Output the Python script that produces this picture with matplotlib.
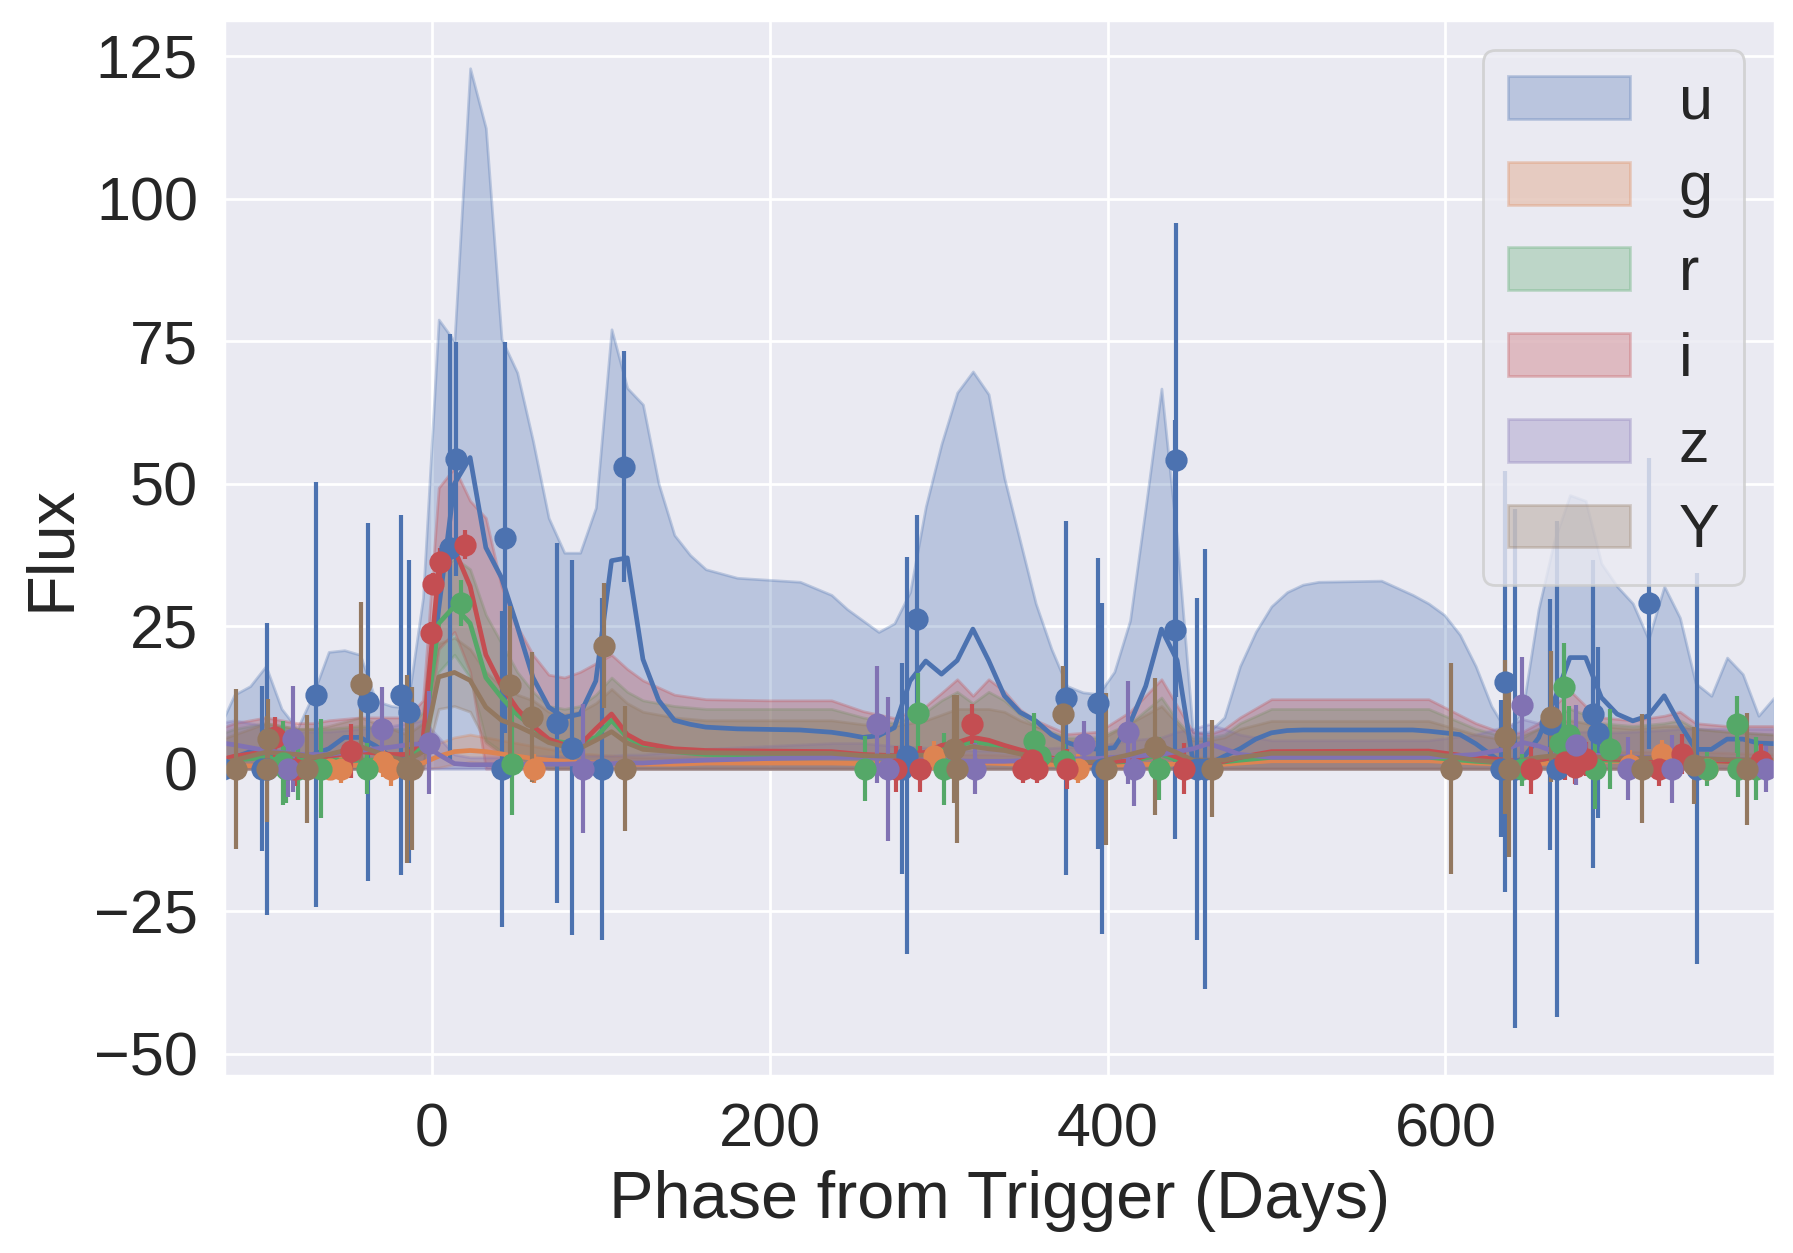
"""Light curve with GP fits per passband: flux vs phase from trigger."""

import matplotlib
matplotlib.use("Agg")
import matplotlib.pyplot as plt
import seaborn as sns

sns.set_theme(style="darkgrid")
plt.rcParams["font.family"] = ["Liberation Sans", "DejaVu Sans"]

BANDS = ["u", "g", "r", "i", "z", "Y"]

# ---- GP fit, u band (phase, mean, upper; lower bound sits at zero) ----
GP_T_U = [
    -126.1, -116.8, -107.5, -98.2, -88.9, -79.6, -70.3, -61.0, -51.7, -42.4,
    -33.1, -23.8, -14.5, -5.2, 4.1, 13.4, 22.7, 32.0, 41.3, 50.6,
    59.9, 69.2, 78.5, 87.8, 97.1, 106.4, 115.7, 125.0, 134.3, 143.6,
    152.9, 162.2, 180.8, 218.0, 236.6, 245.9, 255.2, 264.5, 273.8, 283.1,
    292.4, 301.7, 311.0, 320.3, 329.6, 338.9, 348.2, 357.5, 366.8, 376.1,
    385.4, 394.7, 404.0, 413.3, 422.6, 431.9, 441.2, 450.5, 459.8, 469.1,
    478.4, 487.7, 497.0, 506.3, 515.6, 524.9, 562.1, 580.7, 590.0, 599.3,
    608.6, 617.9, 627.2, 636.5, 645.8, 655.1, 664.4, 673.7, 683.0, 692.3,
    701.6, 710.9, 720.2, 729.5, 738.8, 748.1, 757.4, 766.7, 776.0, 785.3,
    794.6,
]
GP_MEAN_U = [
    1.0, 2.0, 3.0, 3.0, 2.0, 1.5, 2.5, 3.5, 5.5, 5.5,
    4.0, 2.0, 2.5, 3.0, 28.0, 50.0, 54.6, 38.8, 33.5, 25.0,
    16.0, 10.8, 9.0, 9.6, 15.4, 36.5, 37.0, 19.2, 12.0, 8.5,
    7.8, 7.3, 7.0, 6.8, 6.4, 6.0, 5.5, 5.8, 7.2, 15.4,
    18.9, 16.6, 19.0, 24.5, 19.0, 12.8, 9.9, 8.4, 6.0, 4.6,
    3.7, 3.4, 3.7, 8.0, 14.5, 24.5, 19.0, 1.4, 0.8, 2.2,
    3.5, 5.2, 6.3, 6.7, 6.8, 6.8, 6.8, 6.8, 6.6, 6.3,
    6.0, 4.4, 2.4, 0.4, 1.8, 5.4, 12.0, 19.5, 19.5, 12.5,
    9.6, 8.4, 9.3, 12.8, 7.8, 3.4, 3.4, 5.2, 5.2, 4.5,
    4.4,
]
GP_UP_U = [
    7.0, 13.0, 14.5, 18.0, 10.5, 7.0, 13.0, 20.5, 20.8, 20.0,
    11.9, 11.0, 10.7, 30.0, 78.8, 75.0, 122.9, 112.4, 75.4, 69.5,
    57.5, 44.0, 37.9, 37.9, 45.8, 77.1, 66.8, 63.9, 50.0, 41.0,
    37.5, 35.0, 33.5, 32.8, 30.5, 28.0, 26.0, 24.0, 25.5, 31.0,
    46.0, 57.0, 66.0, 69.7, 65.7, 51.0, 40.0, 29.0, 21.0, 14.5,
    13.4, 13.1, 17.0, 26.0, 46.0, 66.7, 40.0, 6.4, 6.4, 9.0,
    18.0, 24.0, 28.5, 31.0, 32.3, 32.8, 33.0, 30.5, 29.0, 27.0,
    23.5, 18.0, 11.0, 6.4, 10.5, 28.0, 40.0, 48.0, 47.0, 36.0,
    32.0, 29.0, 22.7, 32.0, 26.5, 15.0, 12.8, 19.5, 16.6, 9.3,
    12.5,
]

# ---- GP fit, g r i z Y bands (shared phase grid) ----
GP_T = [
    -126.1, -116.8, -98.2, -79.6, -70.3, -61.0, -42.4, -23.8, -14.5, -5.2,
    4.1, 13.4, 22.7, 32.0, 41.3, 50.6, 59.9, 69.2, 78.5, 87.8,
    97.1, 106.4, 115.7, 125.0, 143.6, 162.2, 199.4, 236.6, 255.2, 273.8,
    292.4, 301.7, 311.0, 320.3, 329.6, 338.9, 348.2, 357.5, 376.1, 394.7,
    413.3, 431.9, 441.2, 450.5, 459.8, 469.1, 478.4, 497.0, 590.0, 617.9,
    636.5, 645.8, 655.1, 664.4, 673.7, 683.0, 692.3, 710.9, 729.5, 738.8,
    748.1, 766.7, 794.6,
]

GP_MEAN_G = [
    0.5, 0.5, 0.5, 0.5, 0.5, 0.5, 0.6, 0.6, 0.6, 1.0,
    2.2, 3.0, 3.2, 3.0, 2.6, 2.2, 1.8, 1.5, 1.3, 1.1,
    1.0, 0.9, 0.8, 0.8, 0.8, 1.0, 1.0, 1.0, 0.9, 0.8,
    0.8, 0.9, 1.0, 1.0, 1.0, 0.9, 0.8, 0.8, 0.7, 0.6,
    0.7, 0.8, 0.8, 0.8, 0.8, 0.8, 1.0, 1.4, 1.4, 1.0,
    0.8, 0.8, 0.9, 1.0, 1.1, 1.2, 1.3, 1.3, 1.3, 1.3,
    1.3, 1.2, 1.0,
]
GP_UP_G = [
    2.0, 2.0, 2.0, 2.0, 2.0, 2.0, 2.0, 2.0, 2.0, 2.5,
    4.5, 5.5, 6.0, 5.5, 5.0, 4.5, 4.0, 3.5, 3.0, 2.7,
    2.5, 2.3, 2.1, 2.0, 2.0, 2.5, 2.5, 2.5, 2.4, 2.2,
    2.2, 2.3, 2.5, 2.5, 2.5, 2.4, 2.3, 2.2, 2.0, 1.8,
    1.9, 2.0, 2.0, 2.0, 2.0, 2.0, 2.4, 2.9, 2.9, 2.2,
    2.0, 2.0, 2.2, 2.5, 2.7, 2.8, 3.0, 3.0, 3.0, 3.0,
    3.0, 2.8, 2.5,
]
GP_LO_G = [
    0, 0, 0, 0, 0, 0, 0, 0, 0, 0,
    0.2, 0.8, 1.2, 1.0, 0.5, 0, 0, 0, 0, 0,
    0, 0, 0, 0, 0, 0, 0, 0, 0, 0,
    0, 0, 0, 0, 0, 0, 0, 0, 0, 0,
    0, 0, 0, 0, 0, 0, 0, 0, 0, 0,
    0, 0, 0, 0, 0, 0, 0, 0, 0, 0,
    0, 0, 0,
]

GP_MEAN_R = [
    1.0, 1.5, 2.0, 1.5, 1.5, 1.5, 1.5, 1.5, 1.5, 4.0,
    25.5, 28.5, 25.5, 16.0, 12.5, 9.5, 7.3, 5.0, 4.6, 4.6,
    5.5, 8.5, 5.5, 4.0, 3.0, 2.5, 2.3, 2.3, 2.0, 1.8,
    2.5, 3.5, 4.0, 4.8, 4.3, 3.6, 2.8, 2.2, 1.2, 1.0,
    1.3, 2.5, 1.5, 1.0, 1.0, 1.2, 1.5, 2.0, 2.0, 1.3,
    1.0, 1.0, 1.5, 2.0, 2.5, 2.0, 1.5, 1.5, 1.8, 1.8,
    1.5, 1.3, 1.2,
]
GP_UP_R = [
    6.0, 7.0, 8.0, 7.0, 7.0, 7.0, 7.5, 7.0, 7.0, 10.0,
    34.0, 37.0, 35.0, 27.0, 22.0, 17.0, 13.5, 11.0, 10.5, 11.0,
    13.0, 16.0, 13.5, 12.0, 11.0, 10.5, 10.5, 10.5, 9.0, 8.0,
    10.0, 12.0, 13.5, 11.5, 13.5, 12.0, 9.5, 7.5, 5.5, 5.5,
    8.0, 12.5, 8.5, 5.5, 5.5, 6.0, 8.0, 10.5, 10.5, 7.0,
    5.5, 5.5, 7.0, 9.0, 10.5, 9.5, 8.0, 7.5, 8.0, 8.5,
    7.0, 6.5, 6.0,
]
GP_LO_R = [
    0, 0, 0, 0, 0, 0, 0, 0, 0, 0,
    17.0, 20.0, 16.0, 5.0, 3.0, 2.0, 1.0, 0, 0, 0,
    0, 1.0, 0, 0, 0, 0, 0, 0, 0, 0,
    0, 0, 0, 0, 0, 0, 0, 0, 0, 0,
    0, 0, 0, 0, 0, 0, 0, 0, 0, 0,
    0, 0, 0, 0, 0, 0, 0, 0, 0, 0,
    0, 0, 0,
]

GP_MEAN_I = [
    1.5, 2.2, 3.0, 2.5, 2.0, 2.2, 3.0, 2.5, 2.5, 5.0,
    35.0, 38.5, 32.0, 20.0, 14.5, 10.5, 7.5, 5.2, 4.2, 4.2,
    7.0, 9.6, 6.0, 4.5, 3.5, 3.2, 3.1, 3.0, 2.5, 2.3,
    2.9, 4.1, 4.6, 5.5, 5.0, 4.1, 3.3, 2.6, 1.2, 1.0,
    1.5, 3.0, 2.0, 1.0, 1.0, 1.3, 2.0, 3.0, 3.1, 2.0,
    1.5, 1.2, 1.5, 2.0, 2.5, 2.0, 1.8, 1.5, 1.8, 1.8,
    1.5, 1.3, 1.2,
]
GP_UP_I = [
    7.0, 8.0, 9.0, 8.0, 8.0, 8.5, 9.0, 9.0, 9.0, 12.0,
    49.3, 52.8, 47.0, 44.0, 32.0, 25.0, 20.0, 16.5, 16.0, 17.0,
    18.5, 20.0, 17.5, 15.5, 13.0, 12.2, 12.0, 12.0, 10.1, 8.9,
    11.0, 13.3, 15.7, 12.8, 15.7, 13.6, 10.4, 8.5, 6.1, 6.5,
    10.0, 15.7, 11.0, 6.5, 6.0, 7.0, 9.0, 12.2, 12.2, 8.0,
    6.0, 6.5, 8.0, 11.0, 13.7, 11.0, 9.0, 8.5, 9.3, 10.0,
    8.0, 7.5, 7.5,
]
GP_LO_I = [
    0, 0, 0, 0, 0, 0, 0, 0, 0, 0,
    21.0, 24.0, 17.0, 0, 0, 0, 0, 0, 0, 0,
    0, 0, 0, 0, 0, 0, 0, 0, 0, 0,
    0, 0, 0, 0, 0, 0, 0, 0, 0, 0,
    0, 0, 0, 0, 0, 0, 0, 0, 0, 0,
    0, 0, 0, 0, 0, 0, 0, 0, 0, 0,
    0, 0, 0,
]

GP_MEAN_Z = [
    4.6, 4.2, 3.2, 2.5, 2.5, 2.5, 3.2, 3.8, 4.2, 4.4,
    2.5, 0.9, 0.7, 0.7, 0.7, 0.7, 0.8, 0.8, 0.8, 0.9,
    0.9, 0.9, 1.0, 1.0, 1.3, 1.5, 1.8, 2.0, 2.0, 1.8,
    1.6, 1.5, 1.4, 1.3, 1.3, 1.3, 1.4, 1.5, 1.7, 1.8,
    2.2, 2.5, 3.0, 3.5, 4.4, 3.5, 2.5, 2.0, 2.0, 2.5,
    3.5, 4.6, 4.0, 3.0, 2.7, 2.5, 2.3, 2.0, 2.0, 2.0,
    1.8, 1.6, 1.5,
]
GP_UP_Z = [
    8.0, 8.5, 7.5, 6.5, 6.5, 6.5, 7.0, 7.5, 8.0, 8.5,
    5.5, 2.5, 2.0, 2.0, 2.0, 2.0, 2.2, 2.2, 2.2, 2.3,
    2.3, 2.3, 2.5, 2.5, 3.0, 3.5, 4.0, 4.5, 4.5, 4.0,
    3.7, 3.5, 3.3, 3.2, 3.2, 3.2, 3.3, 3.5, 3.8, 4.0,
    5.0, 5.5, 6.5, 7.0, 7.8, 7.0, 6.0, 5.0, 5.0, 6.0,
    7.5, 8.7, 8.0, 7.0, 6.5, 6.5, 6.3, 6.5, 6.8, 7.0,
    7.0, 7.0, 7.0,
]

GP_MEAN_Y = [
    0.9, 1.5, 2.9, 2.5, 2.0, 2.5, 3.9, 2.0, 1.4, 3.0,
    16.1, 16.9, 15.5, 10.8, 8.5, 7.5, 6.2, 4.6, 3.9, 3.6,
    5.0, 6.5, 4.5, 3.4, 3.0, 2.8, 2.7, 2.7, 2.3, 2.2,
    2.4, 2.7, 3.2, 3.9, 3.5, 3.2, 2.6, 2.0, 1.0, 1.2,
    2.5, 4.0, 2.8, 1.5, 1.5, 1.5, 2.0, 2.7, 2.7, 1.5,
    1.0, 1.5, 2.0, 2.3, 2.5, 2.2, 2.0, 1.8, 2.0, 2.0,
    1.8, 1.6, 1.5,
]
GP_UP_Y = [
    5.0, 6.0, 8.0, 7.0, 7.0, 7.5, 9.0, 7.0, 6.0, 8.0,
    22.0, 23.0, 21.0, 17.0, 14.5, 13.0, 12.0, 10.0, 9.5, 10.0,
    11.5, 14.0, 11.5, 10.0, 9.0, 8.5, 8.5, 8.5, 7.8, 7.5,
    8.5, 9.5, 10.5, 10.5, 10.5, 10.0, 8.5, 7.5, 5.0, 5.0,
    8.0, 11.0, 8.0, 5.0, 5.0, 5.5, 7.0, 8.4, 8.4, 6.0,
    5.0, 6.0, 7.0, 8.0, 8.5, 8.0, 7.5, 7.0, 7.5, 7.5,
    7.0, 6.5, 6.0,
]
GP_LO_Y = [
    0, 0, 0, 0, 0, 0, 0, 0, 0, 0,
    10.5, 11.0, 10.0, 4.6, 2.5, 2.0, 0.5, 0, 0, 0,
    0, 0, 0, 0, 0, 0, 0, 0, 0, 0,
    0, 0, 0, 0, 0, 0, 0, 0, 0, 0,
    0, 0, 0, 0, 0, 0, 0, 0, 0, 0,
    0, 0, 0, 0, 0, 0, 0, 0, 0, 0,
    0, 0, 0,
]

# ---- observations (phase, flux, flux error) ----
OBS_T_U = [-123.3, -100.5, -97.3, -68.6, -37.7, -18.0, -13.5, 10.5, 14.4, 41.6,
           43.5, 74.0, 83.3, 100.5, 114.0, 278.5, 281.5, 287.0, 375.6, 394.3,
           396.5, 440.0, 440.7, 453.0, 457.7, 635.0, 633.0, 641.0, 662.0, 666.0,
           687.6, 690.5, 720.3, 749.0]
OBS_F_U = [0, 0, 0, 13.0, 11.7, 13.0, 10.0, 38.8, 54.3, 0,
           40.5, 8.0, 3.7, 0, 53.0, 0, 2.3, 26.2, 12.4, 11.5,
           0, 24.4, 54.1, 0, 0, 15.3, 0, 0, 7.8, 0,
           9.6, 6.3, 29.0, 0]
OBS_E_U = [6.0, 14.5, 25.6, 37.3, 31.4, 31.6, 26.6, 37.4, 20.5, 27.7,
           34.3, 31.6, 32.9, 30.0, 20.3, 18.5, 34.8, 18.4, 31.0, 25.5,
           29.0, 36.7, 41.6, 30.0, 38.6, 37.0, 12.0, 45.5, 22.0, 43.5,
           27.0, 15.0, 25.5, 34.3]

OBS_T_G = [-60.0, -54.0, -28.8, -23.9, 60.7, 297.0, 382.5, 709.0, 728.0, 755.0]
OBS_F_G = [0, 0, 1.1, 0, 0, 2.3, 0, 0.7, 2.6, 0]
OBS_E_G = [2.0, 2.5, 2.5, 3.0, 2.5, 2.5, 2.5, 2.5, 2.5, 2.0]

OBS_T_R = [-88.0, -86.0, -79.0, -65.3, -38.3, 17.4, 47.5, 256.5, 287.6, 303.0,
           356.6, 359.9, 374.3, 430.7, 645.3, 668.0, 670.3, 673.0, 688.6, 697.4,
           754.6, 772.7, 773.0, 784.0]
OBS_F_R = [1.0, 0, 0, 0, 0, 29.1, 0.9, 0, 9.8, 0,
           4.8, 2.2, 1.4, 0, 0, 4.5, 14.4, 6.0, 0, 3.5,
           0, 7.8, 0, 0]
OBS_E_R = [7.3, 6.0, 5.5, 8.7, 4.5, 4.0, 9.0, 5.7, 7.0, 6.3,
           5.0, 4.0, 3.0, 5.5, 3.0, 5.0, 7.7, 5.0, 7.0, 7.0,
           3.0, 5.0, 5.0, 5.5]

OBS_T_I = [-92.9, -81.0, -47.6, -0.7, 1.0, 4.6, 19.9, 275.0, 289.0, 319.6,
           350.0, 355.0, 358.0, 376.2, 445.3, 650.6, 670.5, 676.4, 683.3, 726.6,
           740.0, 787.0]
OBS_F_I = [5.5, 0, 3.1, 23.8, 32.4, 36.2, 39.3, 0, 0, 7.8,
           0, 1.5, 0, 0, 0, 0, 1.1, 0.3, 1.7, 0,
           2.6, 1.4]
OBS_E_I = [3.5, 3.0, 4.8, 2.0, 2.0, 2.5, 2.5, 4.0, 4.0, 3.5,
           2.5, 2.5, 2.5, 3.5, 4.5, 4.5, 3.0, 3.0, 3.0, 3.0,
           3.5, 3.0]

OBS_T_Z = [-85.0, -82.0, -29.4, -1.9, 89.3, 263.4, 270.3, 321.6, 386.0, 412.0,
           415.5, 645.3, 677.4, 708.3, 734.0, 790.0]
OBS_F_Z = [0, 5.3, 7.0, 4.6, 0, 7.8, 0, 0, 4.3, 6.4,
           0, 11.1, 4.1, 0, 0, 0]
OBS_E_Z = [5.0, 9.3, 7.3, 9.0, 11.3, 10.3, 12.6, 4.5, 4.0, 9.0,
           6.5, 8.5, 7.0, 5.5, 6.0, 4.0]

OBS_T_Y = [-116.1, -97.8, -96.8, -73.7, -41.7, -14.5, -11.7, 46.3, 59.3, 102.0,
           114.5, 309.0, 310.7, 373.7, 399.2, 428.0, 462.0, 603.5, 635.4, 637.4,
           662.4, 716.4, 747.0, 778.6]
OBS_F_Y = [0, 0, 5.3, 0, 14.8, 0, 0, 14.7, 9.0, 21.6,
           0, 3.5, 0, 9.6, 0, 3.9, 0, 0, 5.5, 0,
           9.1, 0, 0.6, 0]
OBS_E_Y = [14.0, 9.3, 7.0, 9.5, 14.4, 16.5, 14.3, 13.9, 11.4, 11.0,
           11.0, 9.5, 13.0, 8.5, 13.3, 12.1, 8.5, 18.5, 13.5, 15.5,
           11.5, 9.6, 6.7, 9.8]


def main():
    colors = sns.color_palette("deep", 6)
    gp = [
        (GP_T_U, GP_MEAN_U, 0, GP_UP_U),
        (GP_T, GP_MEAN_G, GP_LO_G, GP_UP_G),
        (GP_T, GP_MEAN_R, GP_LO_R, GP_UP_R),
        (GP_T, GP_MEAN_I, GP_LO_I, GP_UP_I),
        (GP_T, GP_MEAN_Z, 0, GP_UP_Z),
        (GP_T, GP_MEAN_Y, GP_LO_Y, GP_UP_Y),
    ]
    obs = [
        (OBS_T_U, OBS_F_U, OBS_E_U),
        (OBS_T_G, OBS_F_G, OBS_E_G),
        (OBS_T_R, OBS_F_R, OBS_E_R),
        (OBS_T_I, OBS_F_I, OBS_E_I),
        (OBS_T_Z, OBS_F_Z, OBS_E_Z),
        (OBS_T_Y, OBS_F_Y, OBS_E_Y),
    ]

    fig, ax = plt.subplots(figsize=(8.965, 6.265), dpi=200)
    fig.subplots_adjust(left=0.1251, right=0.9897, bottom=0.1413, top=0.9842)

    for band, c, (t, m, lo, hi), (ot, of, oe) in zip(BANDS, colors, gp, obs):
        ax.fill_between(t, lo, hi, color=c, alpha=0.3, label=band)
        ax.plot(t, m, color=c, linewidth=1.7)
        ax.errorbar(ot, of, yerr=oe, fmt="o", color=c, markersize=7,
                    elinewidth=1.5)

    ax.set_xlim(-122.8, 794.8)
    ax.set_ylim(-53.9, 131.4)
    ax.set_xticks([0, 200, 400, 600])
    ax.set_yticks([-50, -25, 0, 25, 50, 75, 100, 125])
    ax.set_xlabel("Phase from Trigger (Days)", fontsize=24)
    ax.set_ylabel("Flux", fontsize=24)
    ax.tick_params(axis="both", labelsize=22)
    ax.legend(loc="upper right", fontsize=22, labelspacing=0.47)

    fig.savefig("out.png", dpi=200)
    plt.close(fig)


if __name__ == "__main__":
    main()
